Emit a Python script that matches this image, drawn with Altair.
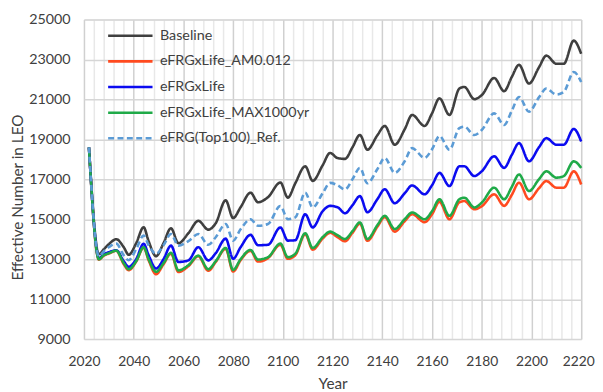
import altair as alt
import pandas as pd

years = [2022, 2026, 2028, 2030, 2033, 2036, 2038, 2041, 2044, 2046,
         2049, 2052, 2055, 2058, 2062, 2066, 2070, 2073, 2077, 2080,
         2083, 2087, 2090, 2094, 2099, 2102, 2105, 2109, 2112, 2116,
         2119, 2122, 2125, 2128, 2131, 2134, 2138, 2141, 2145, 2149,
         2152, 2157, 2160, 2163, 2167, 2171, 2173, 2177, 2180, 2185,
         2189, 2192, 2195, 2199, 2203, 2206, 2210, 2213, 2217, 2220]

baseline = [18600, 13250, 13500, 13750, 14000, 13600, 13220, 13800, 14600, 13900,
            13150, 13800, 14550, 13800, 14300, 14920, 14480, 14800, 15950, 15060,
            15600, 16330, 15850, 16100, 16840, 16080, 16800, 17650, 16920, 17700,
            18320, 18060, 18020, 18600, 19220, 18480, 19200, 19670, 18730, 19500,
            20220, 19670, 20300, 21050, 20220, 21540, 21620, 21010, 21210, 22070,
            21410, 22100, 22730, 21790, 22600, 23190, 22780, 22780, 23940, 23280]

am0012 = [18600, 12980, 13180, 13280, 13420, 12750, 12450, 12880, 13580, 12950,
          12250, 12750, 13280, 12360, 12650, 13150, 12420, 12860, 13520, 12380,
          12950, 13420, 12880, 13050, 13720, 13020, 13200, 14250, 13480, 14030,
          14320, 14100, 13900, 14320, 14780, 13920, 14620, 15100, 14380, 14900,
          15250, 14850, 15250, 15870, 15000, 15850, 15910, 15500, 15650, 16250,
          15670, 16200, 16830, 16000, 16550, 16910, 16580, 16580, 17400, 16740]

efrgxlife = [18600, 13050, 13250, 13350, 13450, 12900, 12620, 13000, 13770, 13200,
             12530, 13000, 13680, 12860, 12940, 13600, 12940, 13300, 14030, 13020,
             13600, 14220, 13700, 13720, 14590, 13930, 13950, 15250, 14590, 15400,
             15670, 15600, 15300, 15700, 16160, 15350, 16000, 16500, 15800, 16300,
             16690, 16250, 16700, 17320, 16660, 17650, 17650, 17160, 17400, 18150,
             17570, 18200, 18810, 17900, 18600, 19060, 18730, 18730, 19520, 18890]

max1000 = [18600, 13000, 13200, 13300, 13430, 12800, 12500, 12900, 13600, 13000,
           12370, 12800, 13320, 12440, 12700, 13180, 12500, 12900, 13560, 12460,
           13000, 13460, 12980, 13100, 13780, 13100, 13270, 14300, 13560, 14100,
           14380, 14200, 14010, 14400, 14840, 14010, 14700, 15170, 14510, 15000,
           15340, 15000, 15400, 16000, 15170, 16000, 16080, 15590, 15830, 16580,
           16000, 16600, 17240, 16410, 17000, 17400, 17080, 17160, 17900, 17570]

top100 = [18600, 13150, 13400, 13600, 13780, 13200, 12950, 13500, 14180, 13700,
          13270, 13700, 14260, 13680, 13900, 14260, 13720, 14100, 14760, 13930,
          14500, 15000, 14670, 14760, 15660, 15000, 15090, 16330, 15590, 16300,
          16820, 16700, 16490, 17000, 17570, 16800, 17500, 18070, 17320, 17900,
          18560, 18070, 18500, 19170, 18480, 19560, 19630, 19220, 19470, 20300,
          19720, 20400, 21120, 20380, 21100, 21540, 21240, 21370, 22370, 21870]

series_names = ["Baseline", "eFRGxLife_AM0.012", "eFRGxLife",
                "eFRGxLife_MAX1000yr", "eFRG(Top100)_Ref."]
series_values = [baseline, am0012, efrgxlife, max1000, top100]
series_colors = ["#3f3f3f", "#ff4a1f", "#0b0bf0", "#1faa48", "#5b9bd5"]
series_dash = [[1, 0], [1, 0], [1, 0], [1, 0], [6, 3.5]]

rows = []
for name, vals in zip(series_names, series_values):
    for yr, v in zip(years, vals):
        rows.append({"Year": yr, "Value": v, "Series": name})
df = pd.DataFrame(rows)

FONT = "Lato"
TXT = "#404040"

x_enc = alt.X(
    "Year:Q",
    scale=alt.Scale(domain=[2020, 2220], nice=False, zero=False),
    axis=alt.Axis(
        values=list(range(2020, 2221, 4)),
        labelExpr="datum.value % 20 === 0 ? datum.label : ''",
        format="d",
        grid=True,
        gridColor={"condition": {"test": "datum.value % 20 === 0", "value": "#d0d0d0"},
                   "value": "#e8e8e8"},
        gridWidth=1.5,
        ticks=False,
        tickSize=0,
        domain=False,
        labelOverlap=False,
        labelFlush=False,
        labelOffset={"condition": {"test": "datum.value === 2220", "value": -3},
                     "value": 0},
        labelPadding=16,
        labelFontSize=14,
        labelFont=FONT,
        labelColor=TXT,
        title="Year",
        titleFont=FONT,
        titleFontSize=15.5,
        titleFontWeight="normal",
        titleColor=TXT,
        titlePadding=8,
    ),
)

y_enc = alt.Y(
    "Value:Q",
    scale=alt.Scale(domain=[9000, 25000], nice=False, zero=False),
    axis=alt.Axis(
        values=list(range(9000, 25001, 2000)),
        format="d",
        grid=True,
        gridColor="#d6d6d6",
        gridWidth=1.5,
        ticks=False,
        tickSize=0,
        domain=False,
        labelPadding=14,
        labelFontSize=14.5,
        labelFont=FONT,
        labelColor=TXT,
        title="Effective Number in LEO",
        titleFont=FONT,
        titleFontSize=15.5,
        titleFontWeight="normal",
        titleColor=TXT,
        titleX=-67,
        titleY=180,
        titleBaseline="middle",
        titleAngle=270,
        titleAlign="center",
    ),
)

color_enc = alt.Color(
    "Series:N",
    scale=alt.Scale(domain=series_names, range=series_colors),
    title=None,
    legend=alt.Legend(
        orient="none",
        legendX=23,
        legendY=9,
        symbolType="stroke",
        symbolSize=2025,
        symbolStrokeWidth=2.6,
        labelFont=FONT,
        labelFontSize=14.5,
        labelColor=TXT,
        labelOffset=6,
        clipHeight=15,
        rowPadding=10,
        padding=0,
        labelLimit=300,
    ),
)

dash_enc = alt.StrokeDash(
    "Series:N",
    scale=alt.Scale(domain=series_names, range=series_dash),
    title=None,
)

layers = []
for name in series_names:
    layers.append(
        alt.Chart(df)
        .transform_filter(alt.datum.Series == name)
        .mark_line(strokeWidth=2.6, interpolate="monotone")
        .encode(x=x_enc, y=y_enc, color=color_enc, strokeDash=dash_enc)
    )

chart = (
    alt.layer(*layers)
    .properties(
        width=504,
        height=324,
        autosize=alt.AutoSizeParams(type="none"),
        padding={"left": 77, "top": 9, "right": 14, "bottom": 51},
    )
    .configure_view(stroke="#000000", strokeWidth=1.5)
    .configure(background="white")
)

chart.save("out.html", embed_options={"renderer": "svg", "actions": False})
